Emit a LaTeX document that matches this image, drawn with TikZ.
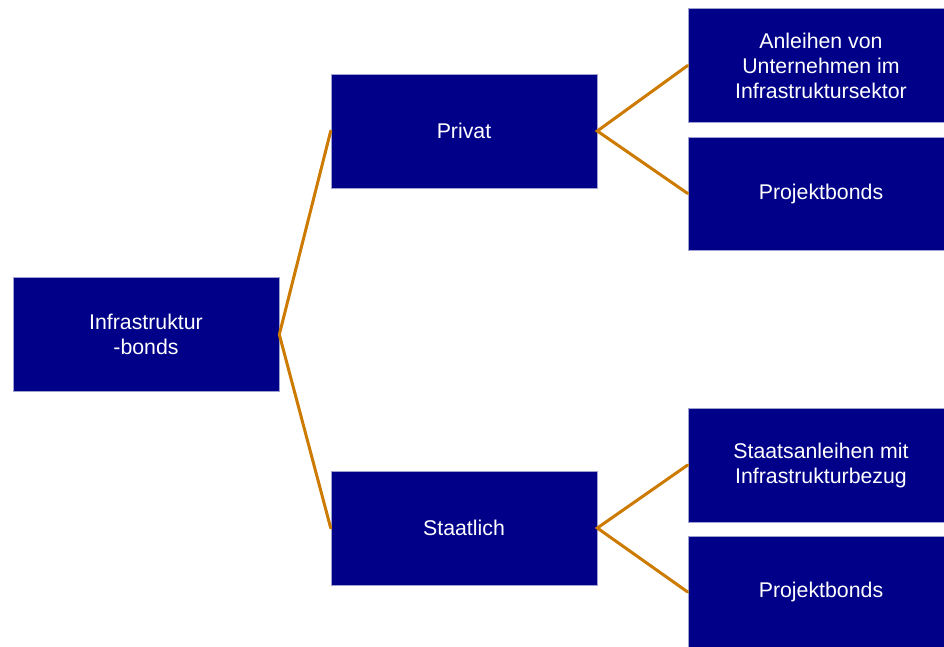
\documentclass[tikz,border=0pt]{standalone}
\usepackage{fontspec}
\setmainfont{Liberation Sans}
\definecolor{boxblue}{HTML}{000088}
\definecolor{boxedge}{HTML}{A0A0D0}
\definecolor{linkorange}{HTML}{CC7A00}
\begin{document}
\begin{tikzpicture}[x=1pt,y=-1pt,
  boxnode/.style={draw=boxedge, line width=0.6pt, fill=boxblue, text=white,
    inner sep=0pt, align=center,
    font=\fontsize{21.3}{25}\selectfont},
  link/.style={draw=linkorange, line width=3pt, line cap=round}]
  \useasboundingbox (0,0) rectangle (944,646);

  % root
  \node[boxnode, minimum width=266pt, minimum height=114pt] (root) at (146,334.5)
    {Infrastruktur\\-bonds};

  % second level
  \node[boxnode, minimum width=266pt, minimum height=114pt] (priv) at (464,131) {Privat};
  \node[boxnode, minimum width=266pt, minimum height=114pt] (staat) at (464,528) {Staatlich};

  % leaves (right edges run past the page border)
  \node[boxnode, minimum width=266pt, minimum height=114pt] (l1) at (821,65.5)
    {Anleihen von\\Unternehmen im\\Infrastruktursektor};
  \node[boxnode, minimum width=266pt, minimum height=113pt] (l2) at (821,193.5) {Projektbonds};
  \node[boxnode, minimum width=266pt, minimum height=114pt] (l3) at (821,465)
    {Staatsanleihen mit\\Infrastrukturbezug};
  \node[boxnode, minimum width=266pt, minimum height=112pt] (l4) at (821,592) {Projektbonds};

  % connectors
  \draw[link] (priv.west) -- (root.east) -- (staat.west);
  \draw[link] (l1.west) -- (priv.east) -- (l2.west);
  \draw[link] (l3.west) -- (staat.east) -- (l4.west);
\end{tikzpicture}
\end{document}
